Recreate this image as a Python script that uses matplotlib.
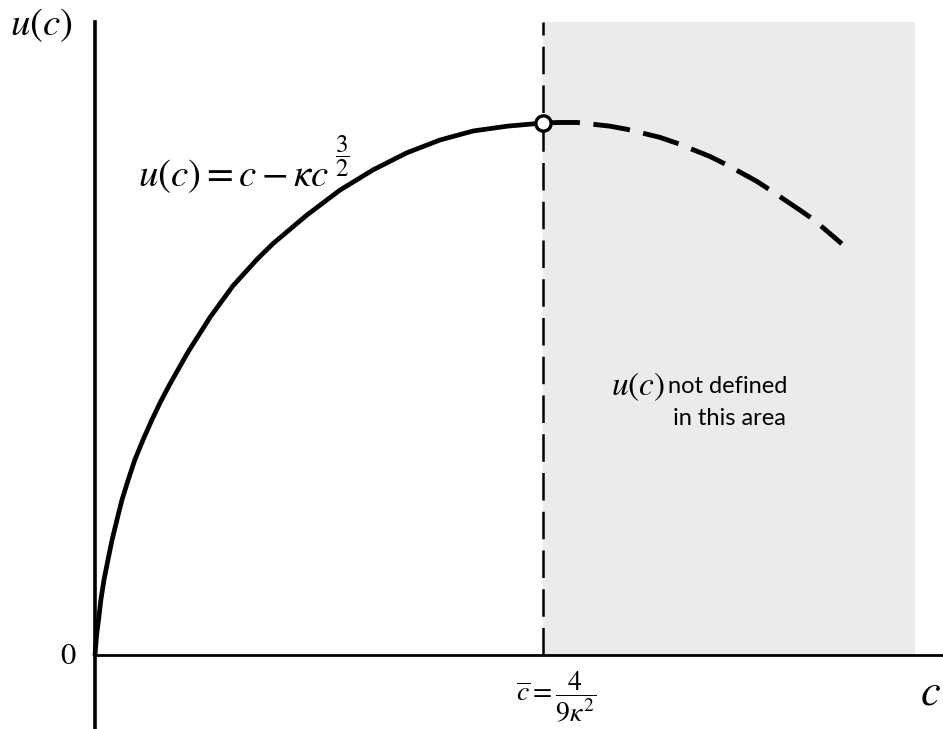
import numpy as np
import matplotlib
matplotlib.use('Agg')
import matplotlib.pyplot as plt

plt.rcParams['mathtext.fontset'] = 'stix'
plt.rcParams['font.family'] = ['Lato', 'DejaVu Sans']

# curve (units: c_bar = 1, peak utility = 1)
c_solid = [0.000, 0.002, 0.004, 0.008, 0.013, 0.020, 0.029, 0.038, 0.049, 0.060,
           0.074, 0.089, 0.107, 0.127, 0.147, 0.167, 0.208, 0.257, 0.308, 0.362,
           0.397, 0.473, 0.547, 0.621, 0.696, 0.770, 0.844, 0.920, 1.000]
u_solid = [0.000, 0.021, 0.041, 0.066, 0.103, 0.141, 0.179, 0.216, 0.254, 0.291,
           0.329, 0.367, 0.404, 0.442, 0.477, 0.509, 0.570, 0.635, 0.694, 0.744,
           0.773, 0.827, 0.874, 0.912, 0.944, 0.968, 0.985, 0.994, 1.000]
c_dashed = [1.000, 1.038, 1.076, 1.150, 1.188, 1.261, 1.299, 1.373, 1.411,
            1.478, 1.507, 1.574, 1.603, 1.667]
u_dashed = [1.000, 1.001, 1.001, 0.994, 0.988, 0.973, 0.962, 0.937, 0.921,
            0.890, 0.874, 0.836, 0.819, 0.773]

C_BAR = 1.0
SHADE_END = 1.83
TOP = 1.19
SHADE = '#ebebeb'

fig = plt.figure(figsize=(9.43, 7.29), dpi=100)
ax = fig.add_axes([0, 0, 1, 1])
ax.set_xlim(-95 / 448, 848 / 448)
ax.set_ylim(-74 / 532, 655 / 532)

# region where u(c) is undefined
ax.fill_between([C_BAR, SHADE_END], 0, TOP, color=SHADE, lw=0, zorder=0)
ax.vlines(C_BAR, 0, TOP, colors='black', lw=1.8,
          linestyles=(0, (11, 4.5)), zorder=2)

ax.plot(c_solid, u_solid, color='black', lw=3.4, solid_capstyle='round',
        solid_joinstyle='round', zorder=3)
ax.plot(c_dashed, u_dashed, color='black', lw=3.5, dashes=(7.6, 2.8), zorder=3)
ax.plot([c_solid[-1]], [u_solid[-1]], 'o', ms=11, mfc='white', mec='black',
        mew=2.4, zorder=4)

# axes through the origin
for s in ['top', 'right']:
    ax.spines[s].set_visible(False)
ax.spines['left'].set_position(('data', 0))
ax.spines['bottom'].set_position(('data', 0))
ax.spines['left'].set_bounds(-74 / 532, TOP)
ax.spines['bottom'].set_bounds(0, 848 / 448)
ax.spines['left'].set_linewidth(2.6)
ax.spines['bottom'].set_linewidth(2.0)
ax.set_xticks([]); ax.set_yticks([])

ax.text(-0.19, 1.185, r'$u\left(c\right)$', fontsize=28, ha='left', va='center')
ax.text(-0.042, 0.0, r'$0$', fontsize=22, ha='right', va='center')
ax.text(1.865, -0.07, r'$c$', fontsize=32, ha='center', va='center')
ax.text(1.029, -0.079, r'$\overline{c}=\dfrac{4}{9\kappa^{2}}$', fontsize=20,
        ha='center', va='center')

# formula, exponent placed as its own small fraction
ax.text(0.096, 0.900, r'$u\left(c\right)=c-\kappa c$', fontsize=28,
        ha='left', va='center')
ax.text(0.552, 0.938, r'$\dfrac{3}{2}$', fontsize=18, ha='center', va='center')

ax.text(1.273, 0.505, r'$u\left(c\right)$', fontsize=24, ha='right', va='center')
ax.text(1.28, 0.505, 'not defined', fontsize=17, ha='left', va='center')
ax.text(1.29, 0.445, 'in this area', fontsize=17, ha='left', va='center')

plt.savefig('out.png', dpi=100, facecolor='white')
plt.close()
